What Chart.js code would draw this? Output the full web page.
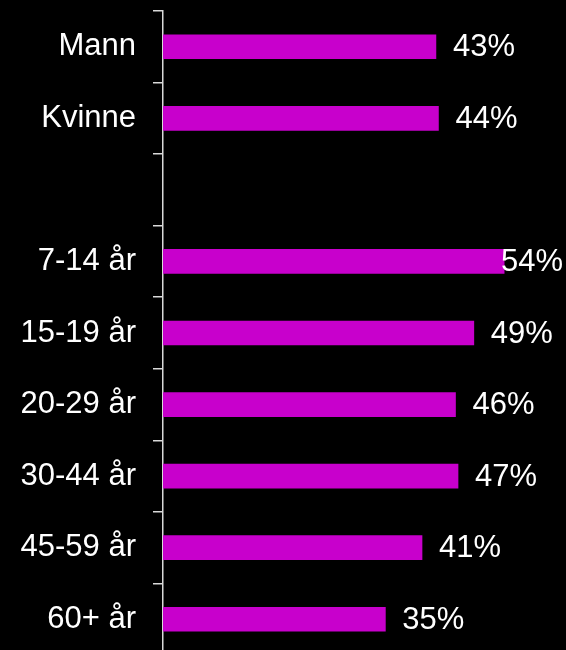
<!DOCTYPE html>
<html>
<head>
<meta charset="utf-8">
<script src="https://cdn.jsdelivr.net/npm/chart.js@4"></script>
<style>
    html, body { margin: 0; padding: 0; background: #000; overflow: hidden; }
    #wrap { width: 566px; height: 650px; overflow: hidden; }
</style>
</head>
<body>
<div id="wrap"><canvas id="main-chart" width="566" height="655"></canvas></div>
<script>
// Categories top to bottom (empty slot separates gender from age groups)
const categories = ['Mann', 'Kvinne', '', '7-14 år', '15-19 år', '20-29 år', '30-44 år', '45-59 år', '60+ år'];
// Share in percent
const shares = [43.2, 43.6, null, 54.0, 49.2, 46.3, 46.7, 41.0, 35.2];

const FONT = { family: "'Liberation Sans', Arial, sans-serif", size: 31 };

// Draws "xx%" to the right of each bar, kept inside the canvas
const valueLabels = {
    id: 'valueLabels',
    afterDatasetsDraw(chart) {
        const ctx = chart.ctx;
        const meta = chart.getDatasetMeta(0);
        ctx.save();
        ctx.font = `${FONT.size}px ${FONT.family}`;
        ctx.fillStyle = '#ffffff';
        ctx.textBaseline = 'middle';
        meta.data.forEach((bar, i) => {
            const v = shares[i];
            if (v === null) return;
            const text = Math.round(v) + '%';
            const w = ctx.measureText(text).width;
            const x = Math.min(bar.x + 17, chart.width - w - 3);
            ctx.fillText(text, x, bar.y + 1);
        });
        ctx.restore();
    }
};

new Chart(document.getElementById('main-chart'), {
    type: 'bar',
    data: {
        labels: categories,
        datasets: [{ data: shares, backgroundColor: '#C800CC', barThickness: 24 }]
    },
    options: {
        indexAxis: 'y',
        responsive: false,
        animation: false,
        devicePixelRatio: 1,
        layout: { padding: { top: 11, right: 5, bottom: 0, left: 0 } },
        plugins: { legend: { display: false }, tooltip: { enabled: false } },
        scales: {
            x: { display: false, min: 0, max: 63 },
            y: {
                afterFit: (scale) => {
                    scale.width = 163;
                    scale.paddingTop = 0;
                    scale.paddingBottom = 0;
                },
                border: { color: '#d9d9d9', width: 1.5 },
                grid: { drawOnChartArea: false, color: '#d9d9d9', lineWidth: 1.5, tickLength: 10, offset: true },
                ticks: { color: '#ffffff', font: FONT, padding: 17 }
            }
        }
    },
    plugins: [valueLabels]
});
</script>
</body>
</html>
